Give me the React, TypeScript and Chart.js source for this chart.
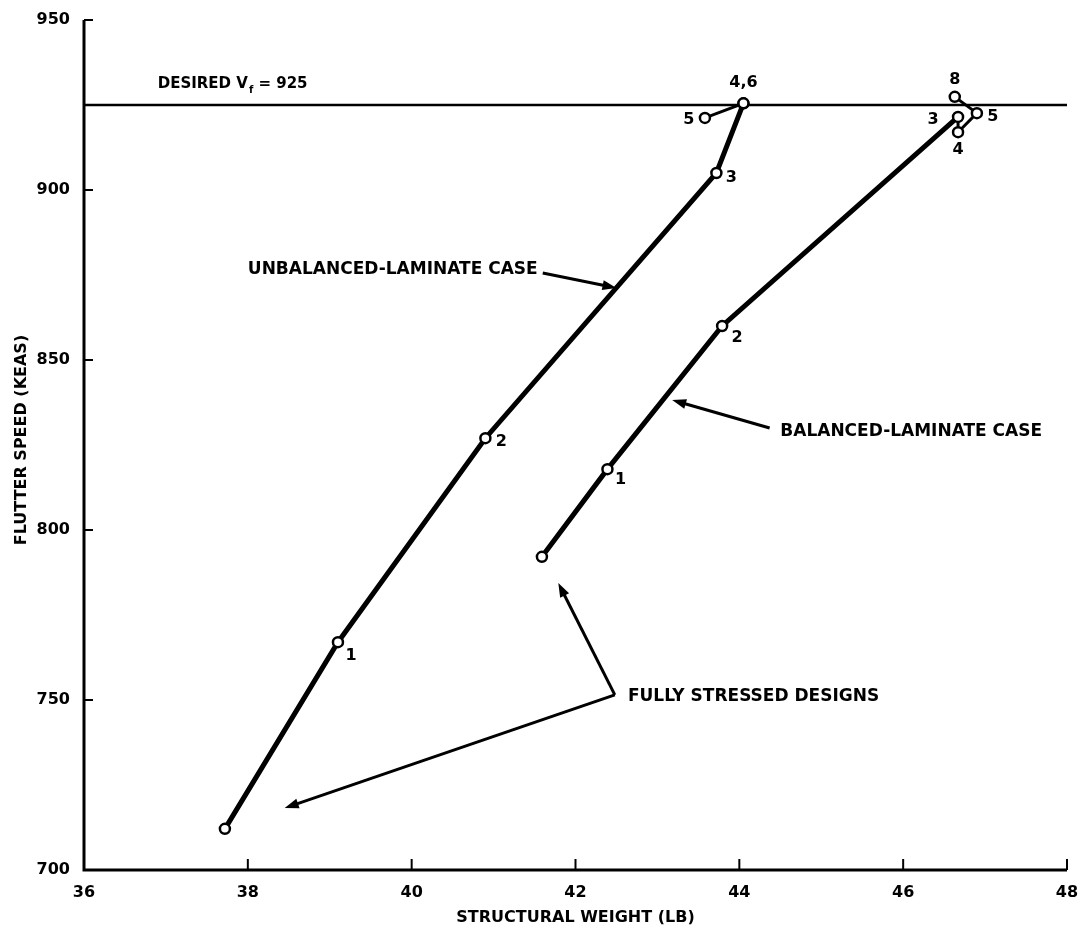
import React, { useEffect, useRef } from "react";
import { Chart, registerables } from "chart.js";

Chart.register(...registerables);

// ---------- data ----------
const xTicks = [36, 38, 40, 42, 44, 46, 48];
const yTicks = [700, 750, 800, 850, 900, 950];

const unbalancedX = [37.72, 39.1, 40.9, 43.72, 44.05, 43.58, 44.05];
const unbalancedY = [712.1, 767, 827, 905, 925.5, 921.2, 925.5];
const unbalancedLabels = ["", "1", "2", "3", "4,6", "5", ""];

const balancedX = [41.59, 42.39, 43.79, 46.67, 46.67, 46.9, 46.63];
const balancedY = [792.1, 817.9, 860, 921.5, 917, 922.6, 927.4];
const balancedLabels = ["", "1", "2", "3", "4", "5", "8"];

const desiredSpeed = 925;
const desiredText = ["DESIRED V", "f", " = 925"];

const xTitle = "STRUCTURAL WEIGHT (LB)";
const yTitle = "FLUTTER SPEED (KEAS)";

const unbalancedCaseText = "UNBALANCED-LAMINATE CASE";
const balancedCaseText = "BALANCED-LAMINATE CASE";
const fullyStressedText = "FULLY STRESSED DESIGNS";

// annotation anchors (data units)
const unbalancedTextAt = [38.0, 876.5];
const unbalancedArrow = [[41.6, 875.6], [42.5, 871.2]];
const balancedTextAt = [44.5, 829];
const balancedArrow = [[44.37, 830], [43.18, 838.2]];
const fullyTextAt = [42.64, 751];
const fullyVertex = [42.48, 751.5];
const fullyTips = [[38.45, 718.2], [41.79, 784.4]];
const desiredTextAt = [36.9, 931];

// label offsets in px (style, not data)
const unbalancedLabelOffsets = [[0, 0], [13, 14], [16, 4], [15, 5], [0, -20], [-16, 2], [0, 0]];
const balancedLabelOffsets = [[0, 0], [13, 11], [15, 12], [-25, 3], [0, 18], [16, 4], [0, -17]];

const FONT = "'DejaVu Sans', 'Liberation Sans', Arial, sans-serif";

function drawArrow(ctx: CanvasRenderingContext2D, x1: number, y1: number, x2: number, y2: number) {
  const ang = Math.atan2(y2 - y1, x2 - x1);
  const len = 14;
  const w = 5;
  ctx.beginPath();
  ctx.moveTo(x1, y1);
  ctx.lineTo(x2 - Math.cos(ang) * len * 0.7, y2 - Math.sin(ang) * len * 0.7);
  ctx.stroke();
  ctx.beginPath();
  ctx.moveTo(x2, y2);
  ctx.lineTo(x2 - Math.cos(ang) * len + Math.sin(ang) * w, y2 - Math.sin(ang) * len - Math.cos(ang) * w);
  ctx.lineTo(x2 - Math.cos(ang) * len - Math.sin(ang) * w, y2 - Math.sin(ang) * len + Math.cos(ang) * w);
  ctx.closePath();
  ctx.fill();
}

const overlayPlugin = {
  id: "overlay",
  afterDraw(chart: any) {
    const { ctx, scales } = chart;
    const xs = scales.x;
    const ys = scales.y;
    const px = (v: number) => xs.getPixelForValue(v);
    const py = (v: number) => ys.getPixelForValue(v);
    const xMin = xTicks[0], xMax = xTicks[xTicks.length - 1];
    const yMin = yTicks[0], yMax = yTicks[yTicks.length - 1];
    ctx.save();
    ctx.strokeStyle = "#000";
    ctx.fillStyle = "#000";
    ctx.lineCap = "butt";

    // axes
    ctx.lineWidth = 3;
    ctx.beginPath();
    ctx.moveTo(px(xMin), py(yMax));
    ctx.lineTo(px(xMin), py(yMin));
    ctx.lineTo(px(xMax), py(yMin));
    ctx.stroke();

    // inward ticks
    ctx.lineWidth = 2;
    yTicks.forEach((v) => {
      if (v === yMin) return;
      ctx.beginPath();
      ctx.moveTo(px(xMin), py(v));
      ctx.lineTo(px(xMin) + 9, py(v));
      ctx.stroke();
    });
    xTicks.forEach((v) => {
      if (v === xMin) return;
      ctx.beginPath();
      ctx.moveTo(px(v), py(yMin));
      ctx.lineTo(px(v), py(yMin) - 11);
      ctx.stroke();
    });

    // axis titles
    ctx.font = `bold 16px ${FONT}`;
    ctx.textAlign = "center";
    ctx.textBaseline = "middle";
    ctx.fillText(xTitle, (px(xMin) + px(xMax)) / 2, 918);
    ctx.save();
    ctx.translate(22, 440);
    ctx.rotate(-Math.PI / 2);
    ctx.fillText(yTitle, 0, 0);
    ctx.restore();

    // point labels
    ctx.font = `bold 16px ${FONT}`;
    unbalancedLabels.forEach((t, i) => {
      if (!t) return;
      const o = unbalancedLabelOffsets[i];
      ctx.fillText(t, px(unbalancedX[i]) + o[0], py(unbalancedY[i]) + o[1]);
    });
    balancedLabels.forEach((t, i) => {
      if (!t) return;
      const o = balancedLabelOffsets[i];
      ctx.fillText(t, px(balancedX[i]) + o[0], py(balancedY[i]) + o[1]);
    });

    // desired text
    ctx.textAlign = "left";
    ctx.font = `bold 15px ${FONT}`;
    let tx = px(desiredTextAt[0]);
    const ty = py(desiredTextAt[1]);
    ctx.fillText(desiredText[0], tx, ty);
    tx += ctx.measureText(desiredText[0]).width + 1;
    ctx.font = `bold 10px ${FONT}`;
    ctx.fillText(desiredText[1], tx, ty + 6);
    tx += ctx.measureText(desiredText[1]).width;
    ctx.font = `bold 15px ${FONT}`;
    ctx.fillText(desiredText[2], tx, ty);

    // case labels
    ctx.font = `bold 17px ${FONT}`;
    ctx.fillText(unbalancedCaseText, px(unbalancedTextAt[0]), py(unbalancedTextAt[1]));
    ctx.fillText(balancedCaseText, px(balancedTextAt[0]), py(balancedTextAt[1]));
    ctx.fillText(fullyStressedText, px(fullyTextAt[0]), py(fullyTextAt[1]));

    // arrows
    ctx.lineWidth = 3;
    drawArrow(ctx, px(unbalancedArrow[0][0]), py(unbalancedArrow[0][1]), px(unbalancedArrow[1][0]), py(unbalancedArrow[1][1]));
    drawArrow(ctx, px(balancedArrow[0][0]), py(balancedArrow[0][1]), px(balancedArrow[1][0]), py(balancedArrow[1][1]));
    fullyTips.forEach((t) => {
      drawArrow(ctx, px(fullyVertex[0]), py(fullyVertex[1]), px(t[0]), py(t[1]));
    });

    ctx.restore();
  },
};

export default function App() {
  const ref = useRef<HTMLCanvasElement | null>(null);
  useEffect(() => {
    document.body.style.margin = "0";
    const canvas = ref.current;
    if (!canvas) return;
    const pointStyle = {
      pointRadius: 5,
      pointHoverRadius: 5,
      pointBorderWidth: 2.5,
      pointBackgroundColor: "#fff",
      pointBorderColor: "#000",
      borderColor: "#000",
      showLine: true,
      tension: 0,
    };
    const chart = new Chart(canvas, {
      type: "scatter",
      data: {
        datasets: [
          {
            label: "Unbalanced",
            data: unbalancedX.map((x, i) => ({ x, y: unbalancedY[i] })),
            ...pointStyle,
            borderWidth: 5,
            segment: { borderWidth: (c: any) => (c.p0DataIndex >= 4 ? 3 : 5) },
          },
          {
            label: "Balanced",
            data: balancedX.map((x, i) => ({ x, y: balancedY[i] })),
            ...pointStyle,
            borderWidth: 5,
            segment: { borderWidth: (c: any) => (c.p0DataIndex >= 3 ? 3 : 5) },
          },
          {
            label: "Desired",
            data: [
              { x: xTicks[0], y: desiredSpeed },
              { x: xTicks[xTicks.length - 1], y: desiredSpeed },
            ],
            borderColor: "#000",
            borderWidth: 2.5,
            pointRadius: 0,
            showLine: true,
          },
        ],
      },
      options: {
        animation: false,
        responsive: false,
        devicePixelRatio: 1,
        layout: { padding: { top: 20, right: 18, left: 0, bottom: 0 } },
        plugins: { legend: { display: false }, tooltip: { enabled: false } },
        scales: {
          x: {
            type: "linear",
            min: xTicks[0],
            max: xTicks[xTicks.length - 1],
            grid: { display: false },
            border: { display: false },
            afterBuildTicks: (s: any) => {
              s.ticks = xTicks.map((v) => ({ value: v }));
            },
            afterFit: (s: any) => {
              s.height = 65;
            },
            ticks: {
              color: "#000",
              padding: 5,
              maxRotation: 0,
              font: { family: FONT, weight: "bold", size: 16 },
              callback: (v: any) => String(v),
            },
          },
          y: {
            type: "linear",
            min: yTicks[0],
            max: yTicks[yTicks.length - 1],
            grid: { display: false },
            border: { display: false },
            afterBuildTicks: (s: any) => {
              s.ticks = yTicks.map((v) => ({ value: v }));
            },
            afterFit: (s: any) => {
              s.width = 84;
            },
            ticks: {
              color: "#000",
              padding: 6,
              font: { family: FONT, weight: "bold", size: 16 },
              callback: (v: any) => String(v),
            },
          },
        },
      },
      plugins: [overlayPlugin],
    } as any);
    return () => chart.destroy();
  }, []);
  return (
    <div style={{ width: 1085, height: 935, background: "#fff" }}>
      <canvas ref={ref} width={1085} height={935} style={{ display: "block" }} />
    </div>
  );
}
